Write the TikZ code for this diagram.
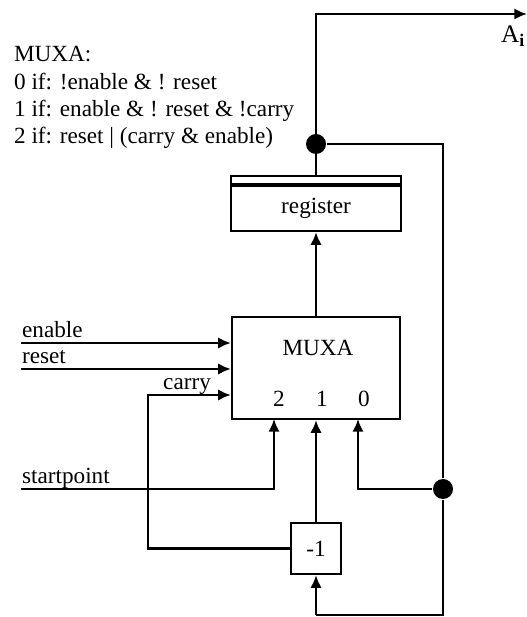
\documentclass[tikz,border=0pt]{standalone}
\usepackage{fontspec}
\setmainfont{Liberation Serif}
\usetikzlibrary{calc,arrows.meta}

\begin{document}
\begin{tikzpicture}[
    >={Latex[length=9pt,width=8pt]},
    line width=1.6pt,
    every node/.style={font=\rmfamily\fontsize{16.5}{19.5}\selectfont},
    block/.style={draw,inner sep=0pt},
    junction/.style={circle,fill=black,inner sep=0pt,minimum size=0.5cm},
    label/.style={inner sep=0pt}
  ]
    \useasboundingbox (0,0) rectangle (13.175,15.425);
    \node[label,anchor=base west,align=left] (rules) at (0.325,11.825) {MUXA:\\0 if: !enable \& ! reset\\1 if: enable \& ! reset \& !carry\\2 if: reset | (carry \& enable)};
    \node[block,minimum width=4.25cm,minimum height=1.125cm] (reg) at (7.9,10.2125) {register};
    \node[block,minimum width=4.25cm,minimum height=0.2cm,anchor=south] (regtop) at (reg.north) {};
    \node[block,minimum width=4.2cm,minimum height=2.55cm] (mux) at (7.9,6.225) {};
    \node[label] (muxname) at (7.95,6.725) {MUXA};
    \node[label] (sel2) at (6.975,5.45) {2};
    \node[label] (sel1) at (8.05,5.45) {1};
    \node[label] (sel0) at (9.1,5.45) {0};
    \node[block,minimum width=1.25cm,minimum height=1.275cm] (dec) at (7.9,1.7125) {-1};
    \node[junction] (tap) at (7.9,11.825) {};
    \node[junction] (fork) at (11.075,3.2) {};
    \node[label,anchor=base west] (enablelab) at (0.525,6.975) {enable};
    \node[label,anchor=base west] (resetlab) at (0.525,6.325) {reset};
    \node[label,anchor=base east] (carrylab) at (5.3,5.675) {carry};
    \node[label,anchor=base west] (startlab) at (0.525,3.325) {startpoint};
    \node[label,anchor=base west,font=\rmfamily\fontsize{18}{20}\selectfont] (outlab) at (12.5,14.35) {A$_{\mathbf{i}}$};
    \coordinate (outend) at (13.175,15.075);
    \coordinate (corner) at (11.075,11.825);
    \coordinate (enablein) at (0.525,6.85);
    \coordinate (resetin) at (0.525,6.2);
    \coordinate (startin) at (0.525,3.2);
    \coordinate (carryin) at (7.9,5.55);
    \coordinate (in2) at (6.85,4.95);
    \coordinate (in0) at (8.95,4.95);
    \coordinate (loop) at (11.075,0.05);
    \draw[->] (regtop.north) -- (7.9,15.075) -- (outend);
    \draw (tap) -- (corner) -- (fork);
    \draw (fork) -- (loop) -- (7.9,0.05);
    \draw[->] (7.9,0.05) -- (dec.south);
    \draw[->] (dec.north) -- (mux.south);
    \draw[->] (mux.north) -- (reg.south);
    \draw[->] (enablein) -- (enablein -| mux.west);
    \draw[->] (resetin) -- (resetin -| mux.west);
    \draw[->] (dec.west) -| (3.7,5.55) -- (carryin -| mux.west);
    \draw[->] (startin) -| (in2);
    \draw[->] (fork) -| (in0);
  \end{tikzpicture}
\end{document}
